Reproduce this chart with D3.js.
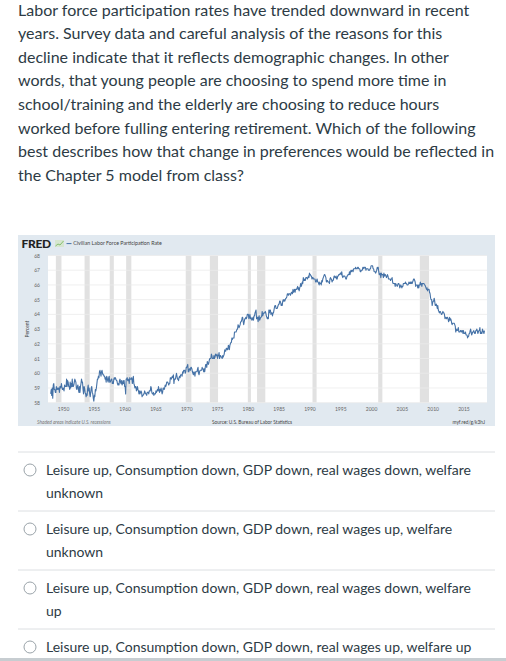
<!DOCTYPE html>
<html>
<head>
<meta charset="utf-8">
<script src="https://cdn.jsdelivr.net/npm/d3@7"></script>
<style>
body { margin: 0; background: #fff; }
svg text { font-family: Lato, "Open Sans", sans-serif; }
</style>
</head>
<body>
<svg id="page"></svg>
<script>
// question + answers (text is fixed-wrapped like the screenshot)
var questionLines = [
    "Labor force participation rates have trended downward in recent",
    "years. Survey data and careful analysis of the reasons for this",
    "decline indicate that it reflects demographic changes. In other",
    "words, that young people are choosing to spend more time in",
    "school/training and the elderly are choosing to reduce hours",
    "worked before fulling entering retirement.  Which of the following",
    "best describes how that change in preferences would be reflected in",
    "the Chapter 5 model from class?"
];
var answerLines = [
    ["Leisure up, Consumption down, GDP down, real wages down, welfare", "unknown"],
    ["Leisure up, Consumption down, GDP down, real wages up, welfare", "unknown"],
    ["Leisure up, Consumption down, GDP down, real wages down, welfare", "up"],
    ["Leisure up, Consumption down, GDP down, real wages up, welfare up"]
];

// Civilian Labor Force Participation Rate, monthly, percent
var civpart1940s = [
    58.6, 58.9, 58.5, 59.0, 58.3, 59.2, 59.3, 58.9, 58.9, 58.7, 58.7, 59.1,
    58.9, 59.0, 58.9, 59.0, 59.0, 58.7, 59.1, 59.0, 59.1, 59.3, 59.0, 58.9
];
var civpart1950s = [
    59.0, 58.9, 58.8, 59.2, 59.1, 59.1, 59.1, 59.6, 59.1, 59.5, 59.4, 59.1,
    59.1, 58.9, 59.4, 59.0, 59.3, 59.1, 59.6, 59.1, 59.1, 59.2, 59.4, 59.6,
    59.5, 59.4, 59.0, 58.9, 59.1, 59.2, 58.9, 58.7, 59.1, 58.7, 59.1, 59.3,
    59.6, 59.4, 59.4, 58.9, 58.6, 59.1, 59.0, 58.7, 58.6, 58.4, 58.6, 58.5,
    59.0, 59.2, 58.8, 59.0, 58.6, 58.4, 58.7, 59.0, 59.1, 58.7, 58.6, 58.3,
    58.1, 58.5, 58.4, 58.9, 58.8, 59.0, 59.3, 59.6, 59.6, 59.8, 59.7, 60.1,
    60.2, 60.0, 59.8, 60.1, 60.2, 60.0, 59.9, 59.9, 59.8, 59.8, 59.6, 59.7,
    59.4, 59.8, 59.7, 59.5, 59.4, 59.7, 59.8, 59.4, 59.4, 59.5, 59.6, 59.6,
    59.3, 59.4, 59.3, 59.6, 59.7, 59.6, 59.7, 59.6, 59.5, 59.5, 59.3, 59.2,
    59.3, 59.2, 59.5, 59.6, 59.4, 59.3, 59.5, 59.2, 59.3, 59.5, 59.3, 59.5
];
var civpart1960s = [
    59.1, 59.1, 58.6, 59.6, 59.6, 59.7, 59.5, 59.5, 59.6, 59.3, 59.7, 59.6,
    59.6, 59.6, 59.7, 59.3, 59.5, 59.8, 59.3, 59.2, 59.0, 59.1, 59.1, 58.8,
    58.9, 59.1, 58.9, 58.8, 58.6, 58.8, 58.6, 58.7, 58.8, 58.7, 58.4, 58.5,
    58.5, 58.6, 58.6, 58.8, 58.7, 58.6, 58.6, 58.5, 58.7, 58.7, 58.7, 58.6,
    58.8, 58.8, 58.8, 59.1, 59.0, 58.7, 58.6, 58.6, 58.7, 58.5, 58.6, 58.6,
    58.6, 58.8, 58.7, 58.8, 58.9, 58.8, 59.1, 58.9, 58.7, 58.9, 58.8, 59.0,
    58.8, 58.6, 58.7, 59.0, 59.0, 58.9, 59.0, 59.2, 59.1, 59.2, 59.4, 59.4,
    59.4, 59.3, 59.2, 59.3, 59.3, 59.7, 59.7, 59.6, 59.7, 59.8, 59.7, 59.9,
    59.3, 59.6, 59.6, 59.6, 59.8, 60.0, 59.8, 59.6, 59.6, 59.5, 59.7, 59.8,
    59.7, 59.9, 59.9, 59.9, 59.8, 60.1, 60.0, 60.2, 60.2, 60.2, 60.0, 60.1
];
var civpart1970s = [
    60.4, 60.4, 60.5, 60.6, 60.1, 60.1, 60.3, 60.3, 60.2, 60.4, 60.4, 60.3,
    60.1, 60.0, 59.9, 60.1, 60.0, 59.8, 60.1, 60.1, 60.1, 60.1, 60.3, 60.4,
    60.0, 59.9, 60.1, 60.2, 60.2, 60.2, 60.2, 60.4, 60.3, 60.3, 60.1, 60.3,
    60.1, 60.4, 60.6, 60.6, 60.4, 60.8, 60.7, 60.6, 60.7, 60.9, 61.0, 61.0,
    61.0, 61.3, 61.2, 61.0, 61.0, 61.0, 61.2, 61.0, 61.1, 61.3, 61.2, 61.2,
    61.3, 61.0, 61.2, 61.2, 61.4, 61.0, 61.2, 61.2, 61.1, 61.1, 61.0, 61.2,
    61.1, 61.2, 61.3, 61.6, 61.5, 61.5, 61.7, 61.7, 61.6, 61.6, 61.9, 61.8,
    61.6, 61.9, 62.0, 62.1, 62.1, 62.4, 62.3, 62.4, 62.4, 62.4, 62.8, 62.8,
    62.8, 62.8, 62.9, 63.0, 63.0, 63.3, 63.2, 63.1, 63.2, 63.3, 63.5, 63.5,
    63.6, 63.8, 63.8, 63.5, 63.3, 63.5, 63.7, 63.7, 63.8, 63.7, 63.8, 64.0
];
var civpart1980s = [
    64.0, 64.0, 63.7, 63.8, 64.0, 63.7, 63.8, 63.7, 63.6, 63.7, 63.8, 63.6,
    63.9, 63.9, 64.1, 64.2, 64.3, 63.7, 63.8, 63.8, 63.5, 63.8, 63.9, 63.6,
    63.7, 63.8, 63.8, 63.9, 64.2, 63.9, 64.0, 64.1, 64.1, 64.1, 64.2, 64.1,
    63.9, 63.8, 63.7, 63.8, 63.7, 64.3, 64.1, 64.3, 64.3, 64.0, 64.1, 64.1,
    63.9, 64.1, 64.1, 64.3, 64.5, 64.6, 64.6, 64.4, 64.4, 64.4, 64.5, 64.6,
    64.7, 64.7, 64.9, 64.9, 64.8, 64.6, 64.7, 64.6, 64.9, 65.0, 64.9, 65.0,
    64.9, 65.0, 65.1, 65.1, 65.2, 65.4, 65.4, 65.3, 65.4, 65.4, 65.4, 65.3,
    65.4, 65.5, 65.5, 65.4, 65.7, 65.5, 65.6, 65.7, 65.5, 65.7, 65.7, 65.7,
    65.8, 65.9, 65.7, 65.8, 65.6, 65.8, 65.9, 66.1, 65.9, 66.0, 66.2, 66.1,
    66.5, 66.3, 66.3, 66.4, 66.3, 66.5, 66.5, 66.5, 66.4, 66.5, 66.6, 66.5
];
var civpart1990s = [
    66.8, 66.7, 66.7, 66.6, 66.6, 66.4, 66.5, 66.5, 66.4, 66.4, 66.4, 66.4,
    66.2, 66.2, 66.3, 66.4, 66.2, 66.2, 66.1, 66.0, 66.2, 66.1, 66.1, 66.0,
    66.3, 66.2, 66.4, 66.5, 66.6, 66.7, 66.7, 66.6, 66.5, 66.2, 66.3, 66.3,
    66.2, 66.2, 66.2, 66.1, 66.4, 66.5, 66.4, 66.4, 66.2, 66.3, 66.3, 66.4,
    66.6, 66.6, 66.5, 66.5, 66.6, 66.4, 66.4, 66.6, 66.6, 66.7, 66.7, 66.7,
    66.8, 66.8, 66.7, 66.9, 66.6, 66.5, 66.6, 66.6, 66.6, 66.6, 66.5, 66.4,
    66.4, 66.6, 66.6, 66.7, 66.7, 66.7, 66.9, 66.7, 66.9, 67.0, 66.9, 67.0,
    67.0, 66.9, 67.1, 67.1, 67.1, 67.1, 67.2, 67.1, 67.1, 67.1, 67.2, 67.2,
    67.1, 67.1, 67.1, 66.9, 66.9, 67.0, 67.0, 67.0, 67.2, 67.2, 67.1, 67.2,
    67.2, 67.2, 67.0, 67.1, 67.1, 67.1, 67.1, 67.0, 67.0, 67.0, 67.1, 67.1
];
var civpart2000s = [
    67.3, 67.3, 67.3, 67.3, 67.1, 67.1, 66.9, 66.9, 66.9, 66.8, 66.9, 67.0,
    67.2, 67.1, 67.2, 66.9, 66.7, 66.7, 66.8, 66.5, 66.8, 66.7, 66.7, 66.7,
    66.5, 66.8, 66.6, 66.7, 66.7, 66.6, 66.5, 66.6, 66.7, 66.6, 66.4, 66.4,
    66.4, 66.4, 66.3, 66.4, 66.4, 66.5, 66.2, 66.1, 66.1, 66.1, 66.1, 65.9,
    66.1, 66.0, 66.0, 65.9, 66.0, 66.1, 66.1, 66.0, 65.8, 65.9, 66.0, 65.9,
    65.8, 65.9, 65.9, 66.1, 66.1, 66.1, 66.1, 66.2, 66.1, 66.1, 66.0, 66.0,
    66.0, 66.1, 66.2, 66.1, 66.1, 66.2, 66.1, 66.2, 66.1, 66.2, 66.3, 66.4,
    66.4, 66.3, 66.2, 65.9, 66.0, 66.0, 66.0, 65.8, 66.0, 65.8, 66.0, 66.0,
    66.2, 66.0, 66.1, 65.9, 66.1, 66.1, 66.1, 66.1, 66.0, 66.0, 65.9, 65.8,
    65.7, 65.8, 65.6, 65.7, 65.7, 65.7, 65.5, 65.4, 65.1, 65.0, 65.0, 64.6
];
var civpart2010s = [
    64.8, 64.9, 64.9, 65.1, 64.9, 64.6, 64.6, 64.7, 64.6, 64.4, 64.6, 64.3,
    64.2, 64.1, 64.2, 64.2, 64.1, 64.0, 64.0, 64.1, 64.2, 64.1, 64.1, 64.0,
    63.7, 63.8, 63.8, 63.7, 63.8, 63.8, 63.7, 63.5, 63.6, 63.8, 63.6, 63.7,
    63.6, 63.4, 63.3, 63.4, 63.4, 63.4, 63.4, 63.3, 63.2, 62.8, 63.0, 62.9,
    62.9, 63.0, 63.1, 62.8, 62.8, 62.8, 62.9, 62.9, 62.8, 62.9, 62.9, 62.7,
    62.9, 62.7, 62.7, 62.7, 62.8, 62.6, 62.6, 62.6, 62.4, 62.5, 62.5, 62.7,
    62.7, 62.9, 63.0, 62.8, 62.6, 62.7, 62.8, 62.8, 62.9, 62.8, 62.7, 62.7,
    62.9, 62.9, 63.0, 62.9, 62.7, 62.8, 62.9, 62.9, 63.1, 62.7, 62.8, 62.7,
    62.7, 63.0, 62.9, 62.8, 62.7, 62.9
];
var chunkStartYears = [1948, 1950, 1960, 1970, 1980, 1990, 2000, 2010];

// NBER recessions (shaded bars)
var recessionStart = ["1948-11", "1953-07", "1957-08", "1960-04", "1969-12", "1973-11",
    "1980-01", "1981-07", "1990-07", "2001-03", "2007-12"];
var recessionEnd = ["1949-10", "1954-05", "1958-04", "1961-02", "1970-11", "1975-03",
    "1980-07", "1982-11", "1991-03", "2001-11", "2009-06"];

var xTickYears = [1950, 1955, 1960, 1965, 1970, 1975, 1980, 1985, 1990, 1995, 2000, 2005, 2010, 2015];
var yTicks = [58, 59, 60, 61, 62, 63, 64, 65, 66, 67, 68];

var page = {width: 506, height: 661};
var panel = {x: 18, y: 235, w: 477, h: 191};
var plot = {left: 48, top: 255.5, right: 487, bottom: 402.7};

var svg = d3.select("#page")
    .attr("width", page.width)
    .attr("height", page.height);

// ---- question text ----
svg.append("g")
    .selectAll("text")
    .data(questionLines)
    .enter()
    .append("text")
    .attr("x", 18)
    .attr("y", function(d, i){ return 15.5 + i * 23.6; })
    .attr("font-size", 16)
    .attr("fill", "#2d3b45")
    .text(function(d){ return d; });

// ---- FRED chart ----
var parseMonth = d3.timeParse("%Y-%m");
var series = [];
var chunks = [civpart1940s, civpart1950s, civpart1960s, civpart1970s,
    civpart1980s, civpart1990s, civpart2000s, civpart2010s];
chunks.forEach(function(vals, c){
    vals.forEach(function(v, i){
        series.push({date: new Date(chunkStartYears[c], i, 1), value: v});
    });
});

var xScale = d3.scaleTime()
    .domain(d3.extent(series, function(d){ return d.date; }))
    .range([50.7, 484.5]);
var yScale = d3.scaleLinear()
    .domain([58, 68])
    .range([plot.bottom, plot.top]);

var fred = svg.append("g").attr("id", "fred");

fred.append("rect")
    .attr("x", panel.x).attr("y", panel.y)
    .attr("width", panel.w).attr("height", panel.h)
    .attr("fill", "#e1e9f0");

fred.append("rect")
    .attr("x", plot.left).attr("y", plot.top)
    .attr("width", plot.right - plot.left).attr("height", plot.bottom - plot.top)
    .attr("fill", "#ffffff");

fred.append("g")
    .selectAll("rect")
    .data(recessionStart)
    .enter()
    .append("rect")
    .attr("x", function(d){ return xScale(parseMonth(d)); })
    .attr("y", plot.top)
    .attr("width", function(d, i){ return xScale(parseMonth(recessionEnd[i])) - xScale(parseMonth(d)); })
    .attr("height", plot.bottom - plot.top)
    .attr("fill", "#e1e1e1");

fred.append("g")
    .selectAll("line")
    .data(yTicks)
    .enter()
    .append("line")
    .attr("x1", plot.left).attr("x2", plot.right)
    .attr("y1", function(d){ return yScale(d); })
    .attr("y2", function(d){ return yScale(d); })
    .attr("stroke", "#ebebeb")
    .attr("stroke-width", 0.8);

fred.append("path")
    .datum(series)
    .attr("fill", "none")
    .attr("stroke", "#4572a7")
    .attr("stroke-width", 1.1)
    .attr("stroke-linejoin", "round")
    .attr("d", d3.line()
        .x(function(d){ return xScale(d.date); })
        .y(function(d){ return yScale(d.value); }));

var yAxis = d3.axisLeft(yScale).tickValues(yTicks).tickSize(0).tickPadding(8);
var xAxis = d3.axisBottom(xScale)
    .tickValues(xTickYears.map(function(y){ return new Date(y, 0, 1); }))
    .tickFormat(d3.timeFormat("%Y"))
    .tickSize(0).tickPadding(4.5);

fred.append("g")
    .attr("transform", "translate(" + plot.left + ",0)")
    .call(yAxis);
fred.append("g")
    .attr("transform", "translate(0," + plot.bottom + ")")
    .call(xAxis);
fred.selectAll(".domain").remove();
fred.selectAll(".tick text")
    .attr("font-family", "Lato, sans-serif")
    .attr("font-size", 5)
    .attr("fill", "#666");

fred.append("text")
    .attr("transform", "translate(28.5,329) rotate(-90)")
    .attr("text-anchor", "middle")
    .attr("font-size", 5)
    .attr("fill", "#444")
    .text("Percent");

// header: logo + legend
fred.append("text")
    .attr("x", 21.5).attr("y", 247.8)
    .attr("font-size", 12)
    .attr("font-weight", 900)
    .attr("letter-spacing", -0.3)
    .attr("fill", "#222")
    .text("FRED");
fred.append("rect")
    .attr("x", 55).attr("y", 240).attr("width", 9).attr("height", 7)
    .attr("fill", "#d6e6d0");
fred.append("path")
    .attr("d", "M55.5,246 L58,244 L60,245 L63.5,241")
    .attr("fill", "none").attr("stroke", "#7dbb64").attr("stroke-width", 0.9);
fred.append("line")
    .attr("x1", 66.5).attr("x2", 71.5).attr("y1", 243.6).attr("y2", 243.6)
    .attr("stroke", "#4572a7").attr("stroke-width", 1);
fred.append("text")
    .attr("x", 73.3).attr("y", 245.3)
    .attr("font-size", 5.3)
    .attr("fill", "#444")
    .text("Civilian Labor Force Participation Rate");

// footer notes
fred.append("text")
    .attr("x", 37).attr("y", 423.5)
    .attr("font-size", 4.8).attr("font-style", "italic")
    .attr("fill", "#777")
    .text("Shaded areas indicate U.S. recessions");
fred.append("text")
    .attr("x", 212).attr("y", 423.5)
    .attr("font-size", 4.8)
    .attr("fill", "#444")
    .text("Source: U.S. Bureau of Labor Statistics");
fred.append("text")
    .attr("x", 485).attr("y", 423.5)
    .attr("text-anchor", "end")
    .attr("font-size", 4.8)
    .attr("fill", "#444")
    .text("myf.red/g/k3hJ");

// ---- answers ----
var separatorY = [452, 511, 570, 629];
var answers = svg.append("g").attr("id", "answers");

answers.selectAll("line")
    .data(separatorY)
    .enter()
    .append("line")
    .attr("x1", 18).attr("x2", 495)
    .attr("y1", function(d){ return d; })
    .attr("y2", function(d){ return d; })
    .attr("stroke", "#dcdfe2").attr("stroke-width", 1);

var opt = answers.selectAll("g.opt")
    .data(answerLines)
    .enter()
    .append("g")
    .attr("class", "opt")
    .attr("transform", function(d, i){ return "translate(0," + separatorY[i] + ")"; });

opt.append("circle")
    .attr("cx", 30).attr("cy", 18)
    .attr("r", 6)
    .attr("fill", "#fff")
    .attr("stroke", "#9aa3a9").attr("stroke-width", 1);

opt.selectAll("text")
    .data(function(d){ return d; })
    .enter()
    .append("text")
    .attr("x", 46)
    .attr("y", function(d, i){ return 23 + i * 22.5; })
    .attr("font-size", 14)
    .attr("fill", "#2d3b45")
    .text(function(d){ return d; });

svg.append("rect")
    .attr("x", 0).attr("y", 658)
    .attr("width", page.width).attr("height", 3)
    .attr("fill", "#c7cdd1");
</script>
</body>
</html>
